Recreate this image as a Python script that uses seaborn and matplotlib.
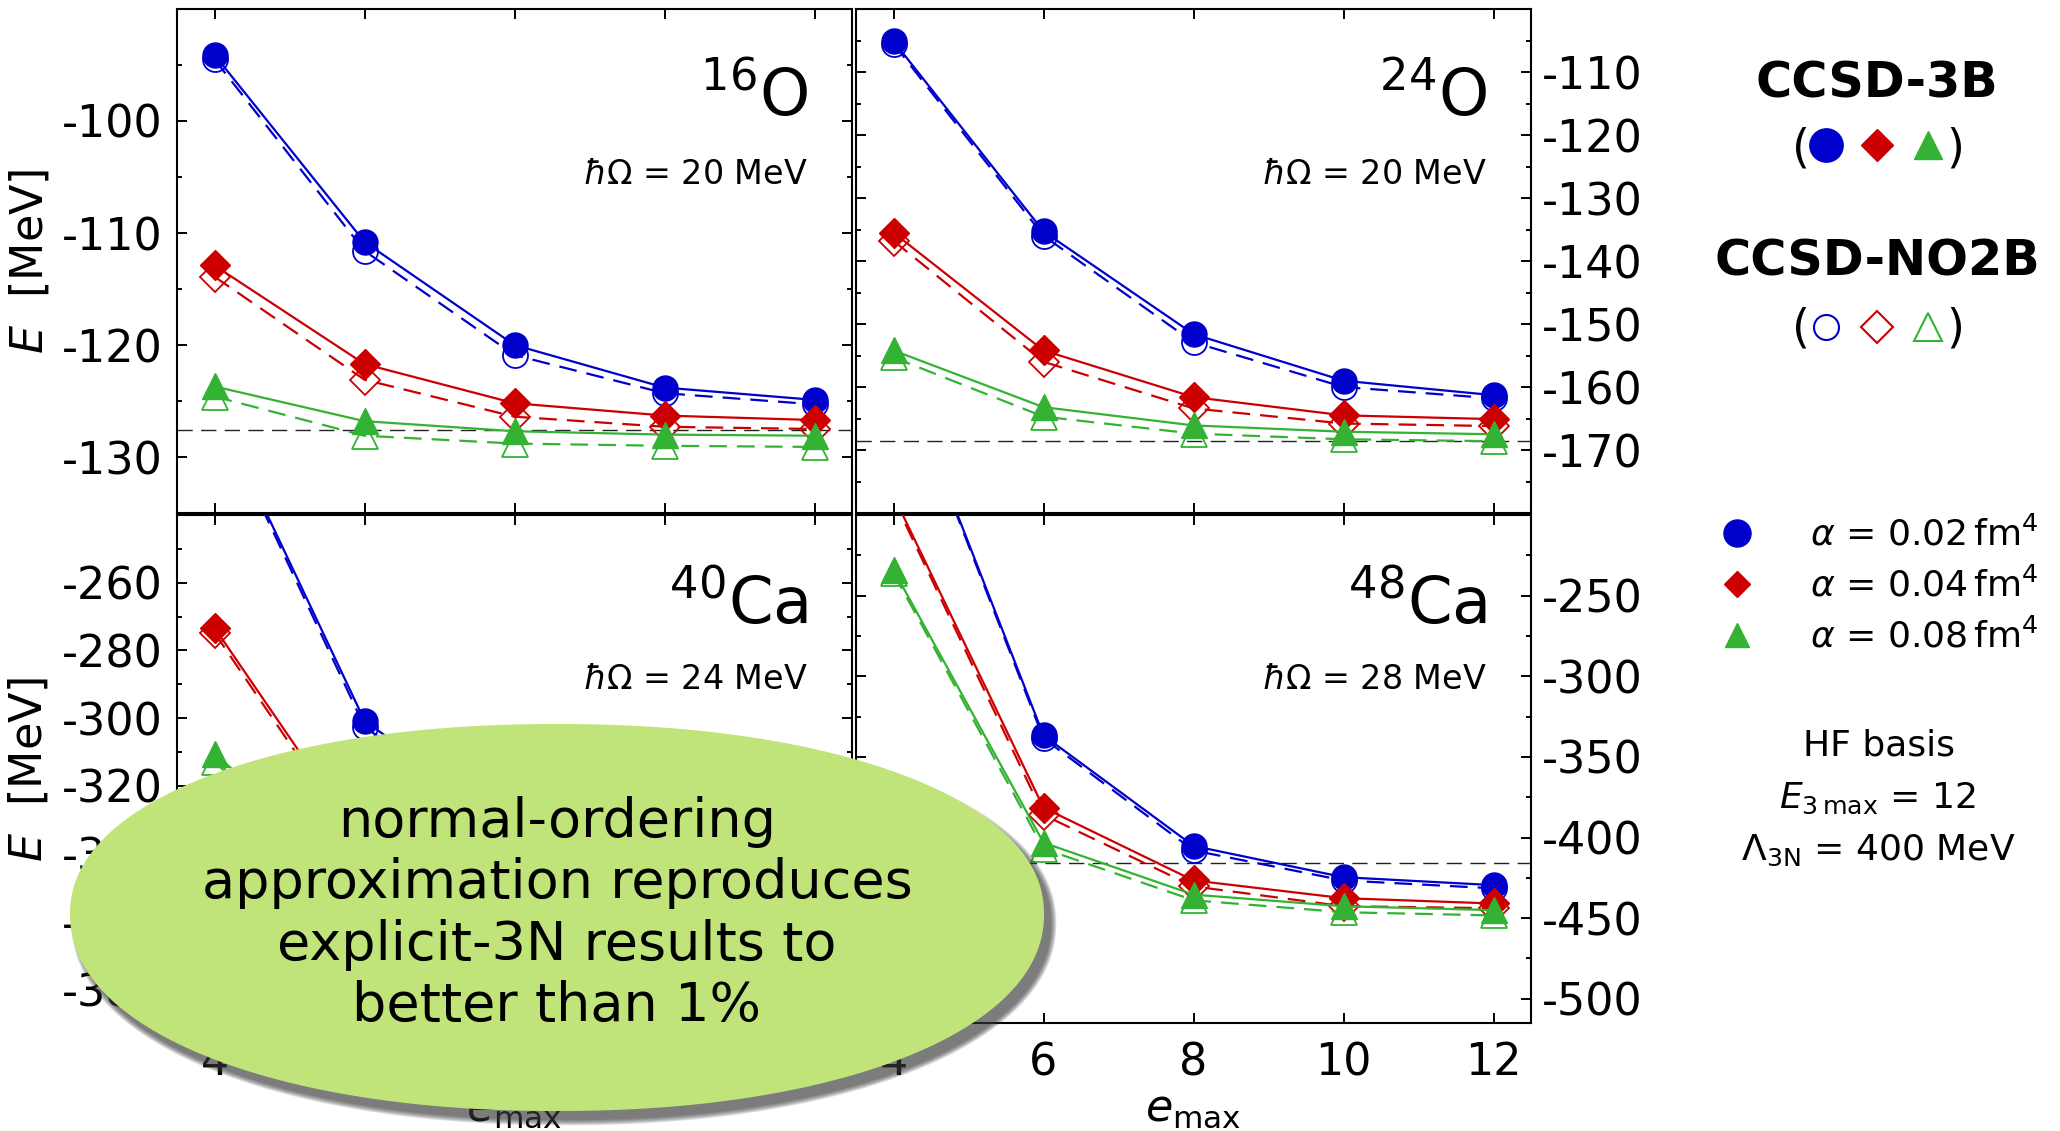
import numpy as np
import matplotlib
matplotlib.use('Agg')
import matplotlib.pyplot as plt
import seaborn as sns
from matplotlib.lines import Line2D
from matplotlib.patches import Polygon
from matplotlib.ticker import MultipleLocator

# ---------------- data ----------------
emax = [4, 6, 8, 10, 12]
alpha_labels = ['0.02', '0.04', '0.08']

# rows: alpha = 0.02, 0.04, 0.08
o16_3b = [[-94.1, -110.8, -120.0, -123.8, -124.9],
          [-112.9, -121.7, -125.2, -126.3, -126.7],
          [-123.7, -126.8, -127.7, -128.0, -128.1]]
o16_no2b = [[-94.5, -111.6, -120.9, -124.3, -125.3],
            [-113.9, -123.1, -126.4, -127.3, -127.5],
            [-124.6, -128.1, -128.8, -129.0, -129.1]]

o24_3b = [[-105.1, -135.3, -151.6, -159.0, -161.3],
          [-135.5, -154.2, -161.6, -164.5, -165.1],
          [-154.2, -163.2, -166.1, -167.1, -167.5]]
o24_no2b = [[-105.5, -136.0, -152.9, -160.0, -161.8],
            [-136.8, -156.0, -163.4, -165.8, -166.2],
            [-155.3, -164.7, -167.4, -168.3, -168.6]]

ca40_3b = [[-207.0, -300.7, -333.0, -341.0, -343.0],
           [-273.3, -338.0, -352.0, -356.0, -357.0],
           [-310.5, -349.0, -358.0, -361.0, -362.0]]
ca40_no2b = [[-208.0, -302.5, -335.0, -343.0, -345.0],
             [-274.8, -340.0, -354.0, -358.0, -359.0],
             [-313.0, -351.0, -360.0, -363.0, -364.0]]

ca48_3b = [[-98.0, -336.7, -405.2, -424.6, -429.5],
           [-188.0, -381.5, -426.6, -437.6, -440.9],
           [-234.0, -403.2, -435.4, -442.6, -445.0]]
ca48_no2b = [[-99.0, -338.5, -408.0, -426.6, -431.5],
             [-190.0, -386.0, -430.3, -442.6, -443.8],
             [-236.0, -406.9, -438.9, -446.3, -448.3]]

nuclei = [r'$^{16}$O', r'$^{24}$O', r'$^{40}$Ca', r'$^{48}$Ca']
hbar_omega = [20, 20, 24, 28]
e_exp = [-127.6, -168.5, -342.0, -415.5]
ylims = [(-135, -90), (-180, -100), (-390, -240), (-515, -200)]
ymajor = [10, 10, 20, 50]
yminor = [5, 5, 10, 25]

colors = ['#0000CC', '#CC0000', '#33B233']
markers = ['o', 'D', '^']
msizes = [18, 15, 19]

# ---------------- style ----------------
sns.set_theme(style='ticks')
plt.rcParams['font.family'] = ['DejaVu Sans']
plt.rcParams['mathtext.fontset'] = 'dejavusans'
plt.rcParams['axes.unicode_minus'] = False
plt.rcParams['axes.linewidth'] = 1.5
for key in ('text.color', 'axes.labelcolor', 'xtick.color', 'ytick.color',
            'axes.edgecolor'):
    plt.rcParams[key] = 'black'

fig = plt.figure(figsize=(20.6, 11.31), dpi=100)
W, H = 2060.0, 1131.0

def fx(px):
    return px / W

def fy(py):
    return 1 - py / H

positions = [
    [fx(177), fy(513), fx(675), 504 / H],
    [fx(856), fy(513), fx(675), 504 / H],
    [fx(177), fy(1023), fx(675), 508 / H],
    [fx(856), fy(1023), fx(675), 508 / H],
]

data_3b = [o16_3b, o24_3b, ca40_3b, ca48_3b]
data_no2b = [o16_no2b, o24_no2b, ca40_no2b, ca48_no2b]

for i in range(4):
    ax = fig.add_axes(positions[i])
    # NO2B (open, dashed) first, then 3B (filled, solid) on top
    for k in range(3):
        sns.lineplot(x=emax, y=data_no2b[i][k], ax=ax, color=colors[k],
                     marker=markers[k], markersize=msizes[k],
                     markerfacecolor='none', markeredgecolor=colors[k],
                     markeredgewidth=1.3, linewidth=1.6,
                     linestyle=(0, (8, 4.5)), legend=False, zorder=3 + k)
    for k in range(3):
        sns.lineplot(x=emax, y=data_3b[i][k], ax=ax, color=colors[k],
                     marker=markers[k], markersize=msizes[k],
                     markerfacecolor=colors[k], markeredgecolor=colors[k],
                     markeredgewidth=1.0, linewidth=1.6,
                     linestyle='-', legend=False, zorder=6 + k)
    ax.axhline(e_exp[i], color='#222222', lw=1.0, ls=(0, (11, 6)), zorder=2)
    lo, hi = ylims[i]
    ax.set_xlim(3.5, 12.5)
    ax.set_ylim(lo, hi)
    ax.set_xticks(emax)
    step = ymajor[i]
    yt = np.arange(np.floor(hi / step) * step, lo, -step)
    yt = [t for t in yt if lo < t < hi]
    ax.set_yticks(yt)
    ax.yaxis.set_minor_locator(MultipleLocator(yminor[i]))
    ax.tick_params(which='both', direction='in', top=True, bottom=True,
                   left=True, right=True, width=1.4, colors='black')
    ax.tick_params(which='major', length=7.5, labelsize=32)
    ax.tick_params(which='minor', length=3.8)
    ax.tick_params(axis='x', pad=13)
    for sp in ax.spines.values():
        sp.set_linewidth(1.5)
        sp.set_color('black')
    if i % 2 == 0:
        ax.tick_params(axis='y', labelleft=True, labelright=False, pad=10)
        ax.set_ylabel(r'$E$  [MeV]', fontsize=32, labelpad=8)
    else:
        ax.tick_params(axis='y', labelleft=False, labelright=True, pad=8)
        ax.set_ylabel('')
    if i < 2:
        ax.tick_params(axis='x', labelbottom=False)
        ax.set_xlabel('')
    else:
        ax.set_xlabel(r'$e_{\mathrm{max}}$', fontsize=32, labelpad=2)
    ax.text(0.935, 0.788 if i < 2 else 0.786, nuclei[i], transform=ax.transAxes,
            ha='right', va='baseline', fontsize=46)
    ax.text(0.935, 0.653 if i < 2 else 0.657,
            r'$\hbar\Omega$ = %d MeV' % hbar_omega[i],
            transform=ax.transAxes, ha='right', va='baseline', fontsize=24)

# ---------------- right-hand annotations ----------------
fig.text(fx(1877), fy(97), 'CCSD-3B', ha='center', va='baseline',
         fontsize=35.5, fontweight='bold')
fig.text(fx(1877), fy(275), 'CCSD-NO2B', ha='center', va='baseline',
         fontsize=35.5, fontweight='bold')
for yb in (162, 341):
    fig.text(fx(1792), fy(yb), '(', ha='left', va='baseline', fontsize=33)
    fig.text(fx(1964), fy(yb), ')', ha='right', va='baseline', fontsize=33)

filled_handles = [Line2D([], [], ls='none', marker=m, color=c, ms=s, mec=c)
                  for m, c, s in zip(markers, colors, [24, 16, 20])]
open_handles = [Line2D([], [], ls='none', marker=m, color=c, ms=s, mfc='none',
                       mec=c, mew=1.5)
                for m, c, s in zip(markers, colors, [18, 16, 20])]
fig.legend(handles=filled_handles, labels=['', '', ''], ncol=3,
           loc='center', bbox_to_anchor=(fx(1877), fy(146)),
           frameon=False, fontsize=10, handlelength=1.0,
           handletextpad=0.0, columnspacing=2.67, borderpad=0,
           borderaxespad=0)
fig.legend(handles=open_handles, labels=['', '', ''], ncol=3,
           loc='center', bbox_to_anchor=(fx(1877), fy(328)),
           frameon=False, fontsize=10, handlelength=1.0,
           handletextpad=0.0, columnspacing=2.67, borderpad=0,
           borderaxespad=0)

alpha_handles = [Line2D([], [], ls='none', marker=m, color=c, ms=s, mec=c)
                 for m, c, s in zip(markers, colors, [19.5, 13.7, 17])]
alpha_texts = [r'$\alpha$ = %s$\,$fm$^4$' % a for a in alpha_labels]
fig.legend(handles=alpha_handles, labels=alpha_texts,
           loc='center left', bbox_to_anchor=(fx(1719), fy(585.5)),
           frameon=False, fontsize=26, handlelength=1.0,
           handletextpad=1.52, labelspacing=0.42, borderpad=0,
           borderaxespad=0)

fig.text(fx(1879), fy(755), 'HF basis', ha='center', va='baseline', fontsize=26)
fig.text(fx(1877), fy(808), r'$E_{3\,\mathrm{max}}$ = 12', ha='center',
         va='baseline', fontsize=26)
fig.text(fx(1878), fy(860), r'$\Lambda_{\mathrm{3N}}$ = 400 MeV', ha='center',
         va='baseline', fontsize=26)

# ---------------- speech bubble ----------------
cx, cy = 557, 914
ra = 487
rb_top, rb_bot = 190, 197
nexp = 2.12
t = np.linspace(0, 2 * np.pi, 500)
ux = np.sign(np.cos(t)) * np.abs(np.cos(t)) ** (2 / nexp)
uy = np.sign(np.sin(t)) * np.abs(np.sin(t)) ** (2 / nexp)

def bubble(dx, dy, grow):
    rb = np.where(uy > 0, rb_bot, rb_top)
    px = cx + dx + (ra + grow) * ux
    py = cy + dy + (rb + grow) * uy
    return np.column_stack([px / W, 1 - py / H])

for j in range(7):
    fig.add_artist(Polygon(bubble(7, 9, j * 0.9), closed=True,
                           transform=fig.transFigure, facecolor='#3a3a3a',
                           edgecolor='none', alpha=0.14, zorder=19))
fig.add_artist(Polygon(bubble(0, 0, 0), closed=True, transform=fig.transFigure,
                       facecolor='#C0E47A', edgecolor='none', zorder=20))
fig.text(fx(cx), fy(cy), 'normal-ordering\napproximation reproduces\n'
         'explicit-3N results to\nbetter than 1%', ha='center', va='center',
         fontsize=39, linespacing=1.22, zorder=21)

fig.savefig('out.png', dpi=100)
